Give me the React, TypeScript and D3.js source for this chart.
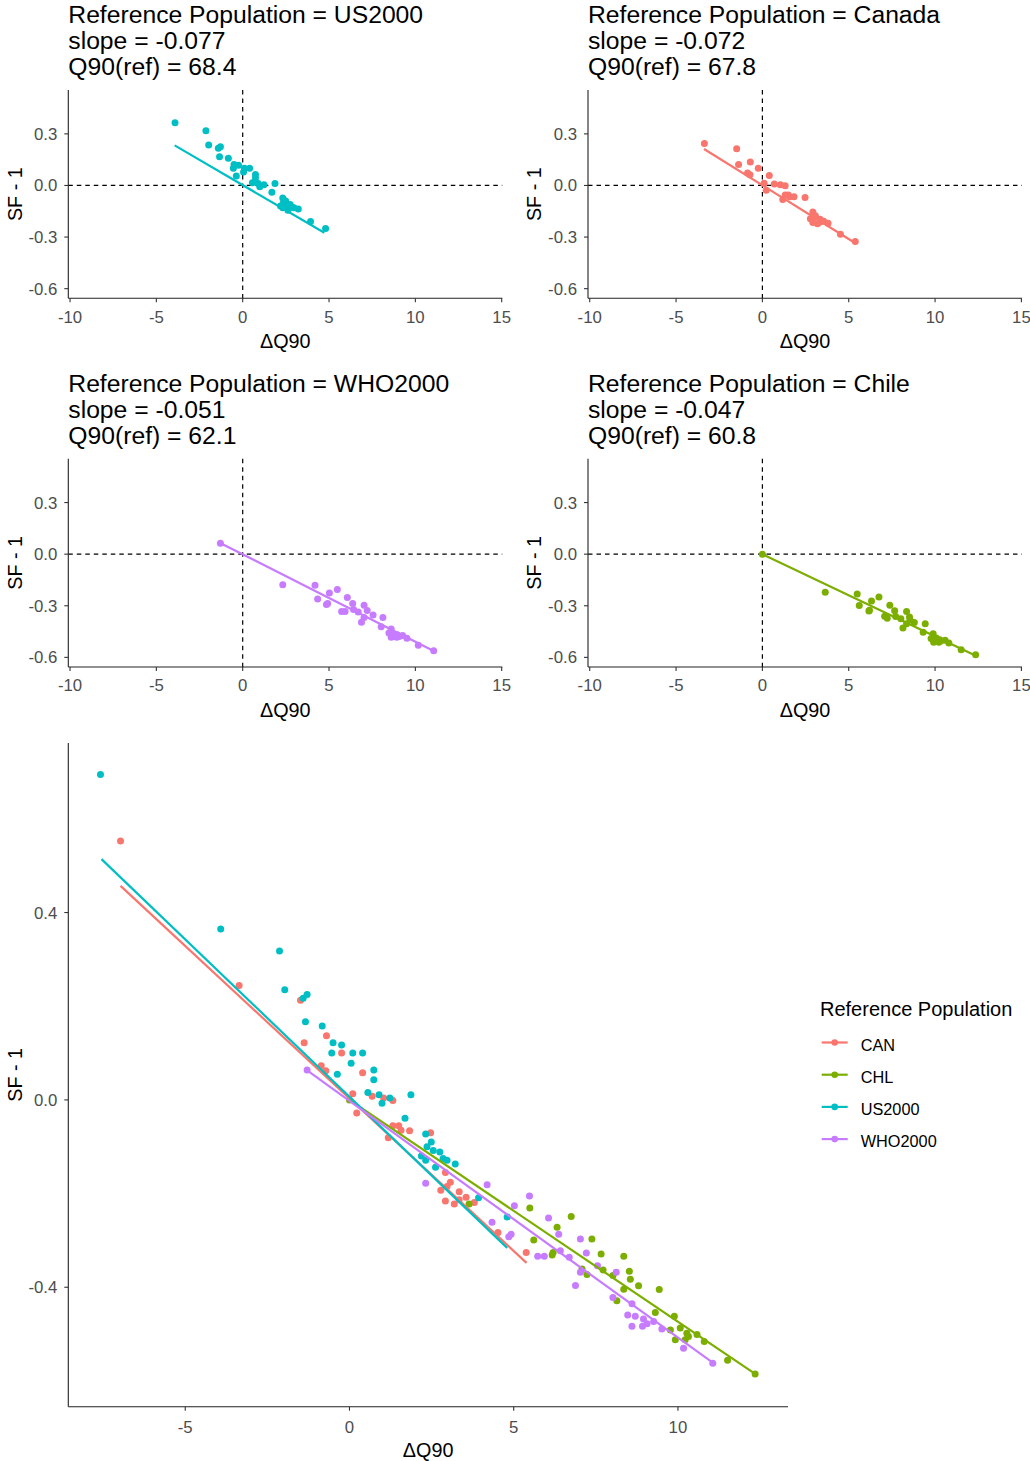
import React from 'react';
import * as d3 from 'd3';

type P = [number, number];

const groups = ['CAN', 'CHL', 'US2000', 'WHO2000'];
const groupColors = ['#F8766D', '#7CAE00', '#00BFC4', '#C77CFF'];

const canPoints: P[] = [
  [-6.97, 0.553], [-3.36, 0.244], [-1.49, 0.213], [-0.70, 0.137], [-1.38, 0.122], [-0.24, 0.100],
  [-0.86, 0.073], [-0.72, 0.062], [0.40, 0.058], [0.10, 0.013], [0.69, 0.008], [1.04, 0.004],
  [1.32, -0.001], [0.22, -0.028], [1.32, -0.055], [1.50, -0.055], [1.57, -0.065], [1.83, -0.066],
  [2.47, -0.070], [1.18, -0.081], [2.92, -0.155], [3.07, -0.176], [2.97, -0.185], [2.78, -0.193],
  [3.34, -0.196], [3.55, -0.208], [2.92, -0.216], [3.19, -0.222], [3.34, -0.213], [3.80, -0.219],
  [4.52, -0.283], [5.38, -0.326],
];

const chlPoints: P[] = [
  [0, 0], [3.64, -0.222], [5.49, -0.231], [6.75, -0.249], [6.32, -0.272], [5.61, -0.299],
  [6.17, -0.331], [6.20, -0.326], [7.38, -0.297], [7.66, -0.329], [8.35, -0.334], [7.08, -0.361],
  [7.23, -0.373], [7.72, -0.363], [8.02, -0.375], [8.52, -0.366], [8.55, -0.383], [8.80, -0.397],
  [9.43, -0.405], [8.35, -0.404], [8.14, -0.429], [9.31, -0.454], [9.89, -0.462], [9.77, -0.491],
  [10.07, -0.487], [10.27, -0.498], [9.92, -0.512], [10.22, -0.512], [10.32, -0.505], [10.58, -0.501],
  [10.80, -0.516], [11.51, -0.556], [12.35, -0.585],
];

const usPoints: P[] = [
  [-7.58, 0.695], [-3.92, 0.365], [-2.13, 0.318], [-1.97, 0.235], [-1.29, 0.225], [-1.41, 0.217],
  [-1.34, 0.167], [-0.83, 0.158], [-0.50, 0.122], [-0.24, 0.117], [-0.54, 0.100], [0.10, 0.100],
  [0.40, 0.100], [0.05, 0.078], [-0.37, 0.055], [0.74, 0.064], [0.74, 0.043], [0.56, 0.016],
  [0.90, 0.011], [0.99, -0.007], [1.23, 0.004], [1.87, 0.011], [1.69, -0.039], [2.32, -0.073],
  [2.49, -0.090], [2.36, -0.100], [2.75, -0.111], [2.19, -0.120], [2.32, -0.129], [2.97, -0.129],
  [3.22, -0.137], [2.62, -0.144], [2.55, -0.108], [2.85, -0.125], [3.93, -0.209], [4.80, -0.250],
];

const whoPoints: P[] = [
  [-1.29, 0.064], [2.32, -0.178], [4.19, -0.181], [4.34, -0.261], [4.85, -0.292], [4.92, -0.287],
  [5.02, -0.226], [5.48, -0.205], [5.73, -0.334], [5.93, -0.334], [6.06, -0.252], [6.37, -0.287],
  [6.42, -0.322], [6.69, -0.336], [7.03, -0.297], [7.21, -0.327], [7.55, -0.354], [7.03, -0.368],
  [6.88, -0.396], [8.12, -0.368], [8.02, -0.422], [8.60, -0.435], [8.47, -0.459], [8.70, -0.462],
  [8.60, -0.483], [8.95, -0.468], [8.92, -0.483], [9.06, -0.478], [9.26, -0.473], [9.51, -0.489],
  [10.17, -0.530], [11.06, -0.562],
];

// fitted lines (endpoints) in the combined panel
const canLineAll: P[] = [[-6.97, 0.457], [5.39, -0.348]];
const chlLineAll: P[] = [[0, 0], [12.35, -0.585]];
const usLineAll: P[] = [[-7.55, 0.514], [4.80, -0.316]];
const whoLineAll: P[] = [[-1.31, 0.064], [11.08, -0.562]];
// fitted lines in the faceted panels
const canLineSub: P[] = [[-3.38, 0.212], [5.30, -0.330]];
const chlLineSub: P[] = [[0, 0], [12.30, -0.588]];
const usLineSub: P[] = [[-3.94, 0.233], [4.73, -0.275]];
const whoLineSub: P[] = [[-1.28, 0.064], [11.06, -0.563]];

const groupPoints = [canPoints, chlPoints, usPoints, whoPoints];
const groupLinesAll = [canLineAll, chlLineAll, usLineAll, whoLineAll];
const groupLinesSub = [canLineSub, chlLineSub, usLineSub, whoLineSub];

const panelNames = ['US2000', 'Canada', 'WHO2000', 'Chile'];
const panelGroupIdx = [2, 0, 3, 1];
const panelSlopes = ['-0.077', '-0.072', '-0.051', '-0.047'];
const panelQ90 = ['68.4', '67.8', '62.1', '60.8'];

const smallXTicks = [-10, -5, 0, 5, 10, 15];
const smallYTicks = [0.3, 0, -0.3, -0.6];
const bigXTicks = [-5, 0, 5, 10];
const bigYTicks = [0.4, 0, -0.4];

const FONT = "'Liberation Sans', Arial, Helvetica, sans-serif";
const TICK_COLOR = '#4D4D4D';
const TITLE_SIZE = 24.7;
const PT_R = 3.5;
const LINE_W = 2.2;

const fmt1 = (v: number) => (Math.abs(v) < 1e-9 ? '0.0' : v.toFixed(1));

function SmallPanel({ idx, ox, oy }: { idx: number; ox: number; oy: number }) {
  const left = 68.3 + ox, right = 502.3 + ox, top = 90 + oy, bottom = 298.3 + oy;
  const x = d3.scaleLinear().domain([-10.1, 15.035]).range([left, right]);
  const y = d3.scaleLinear().domain([-0.656, 0.555]).range([bottom, top]);
  const g = panelGroupIdx[idx];
  const color = groupColors[g];
  const pts = groupPoints[g].filter((p) => p[1] <= 0.5);
  const line = d3.line<P>().x((d) => x(d[0])).y((d) => y(d[1]));
  return (
    <g>
      <text x={left} y={23.3 + oy} fontSize={TITLE_SIZE} fill="#000" fontFamily={FONT}>{`Reference Population = ${panelNames[idx]}`}</text>
      <text x={left} y={49.3 + oy} fontSize={TITLE_SIZE} fill="#000" fontFamily={FONT}>{`slope = ${panelSlopes[idx]}`}</text>
      <text x={left} y={75.3 + oy} fontSize={TITLE_SIZE} fill="#000" fontFamily={FONT}>{`Q90(ref) = ${panelQ90[idx]}`}</text>
      <line x1={left} x2={right} y1={y(0)} y2={y(0)} stroke="#000" strokeWidth={1.2} strokeDasharray="4.5,4" />
      <line x1={x(0)} x2={x(0)} y1={top} y2={bottom} stroke="#000" strokeWidth={1.2} strokeDasharray="4.5,4" />
      {pts.map((p, i) => (
        <circle key={i} cx={x(p[0])} cy={y(p[1])} r={PT_R} fill={color} />
      ))}
      <path d={line(groupLinesSub[g]) || ''} stroke={color} strokeWidth={LINE_W} fill="none" />
      <line x1={left} x2={right} y1={bottom} y2={bottom} stroke="#222" strokeWidth={1.1} />
      <line x1={left} x2={left} y1={top} y2={bottom} stroke="#222" strokeWidth={1.1} />
      {smallXTicks.map((t) => (
        <g key={t}>
          <line x1={x(t)} x2={x(t)} y1={bottom} y2={bottom + 4} stroke="#333" strokeWidth={1.1} />
          <text x={x(t)} y={bottom + 24.4} fontSize={16.8} fill={TICK_COLOR} textAnchor="middle" fontFamily={FONT}>{String(t)}</text>
        </g>
      ))}
      {smallYTicks.map((t) => (
        <g key={t}>
          <line x1={left - 4} x2={left} y1={y(t)} y2={y(t)} stroke="#333" strokeWidth={1.1} />
          <text x={left - 11} y={y(t) + 6} fontSize={16.8} fill={TICK_COLOR} textAnchor="end" fontFamily={FONT}>{fmt1(t)}</text>
        </g>
      ))}
      <text x={(left + right) / 2} y={bottom + 50} fontSize={19.8} fill="#000" textAnchor="middle" fontFamily={FONT}>ΔQ90</text>
      <text transform={`translate(${21.7 + ox},${(top + bottom) / 2}) rotate(-90)`} fontSize={19.8} fill="#000" textAnchor="middle" fontFamily={FONT}>SF - 1</text>
    </g>
  );
}

function BigPanel() {
  const left = 68.3, right = 788, top = 743, bottom = 1406.7;
  const x = d3.scaleLinear().domain([-8.56, 13.35]).range([left, right]);
  const y = d3.scaleLinear().domain([-0.655, 0.762]).range([bottom, top]);
  const line = d3.line<P>().x((d) => x(d[0])).y((d) => y(d[1]));
  const legendRows = groups.map((gname, i) => ({ gname, i, cy: 1042.5 + i * 32.2 }));
  return (
    <g>
      {groups.map((gname, gi) => (
        <g key={gname}>
          {groupPoints[gi].map((p, i) => (
            <circle key={i} cx={x(p[0])} cy={y(p[1])} r={PT_R} fill={groupColors[gi]} />
          ))}
        </g>
      ))}
      {groups.map((gname, gi) => (
        <path key={gname} d={line(groupLinesAll[gi]) || ''} stroke={groupColors[gi]} strokeWidth={LINE_W} fill="none" />
      ))}
      <line x1={left} x2={right} y1={bottom} y2={bottom} stroke="#222" strokeWidth={1.1} />
      <line x1={left} x2={left} y1={top} y2={bottom} stroke="#222" strokeWidth={1.1} />
      {bigXTicks.map((t) => (
        <g key={t}>
          <line x1={x(t)} x2={x(t)} y1={bottom} y2={bottom + 4} stroke="#333" strokeWidth={1.1} />
          <text x={x(t)} y={bottom + 26.6} fontSize={16.8} fill={TICK_COLOR} textAnchor="middle" fontFamily={FONT}>{String(t)}</text>
        </g>
      ))}
      {bigYTicks.map((t) => (
        <g key={t}>
          <line x1={left - 4} x2={left} y1={y(t)} y2={y(t)} stroke="#333" strokeWidth={1.1} />
          <text x={left - 11} y={y(t) + 6} fontSize={16.8} fill={TICK_COLOR} textAnchor="end" fontFamily={FONT}>{fmt1(t)}</text>
        </g>
      ))}
      <text x={(left + right) / 2} y={bottom + 50} fontSize={19.8} fill="#000" textAnchor="middle" fontFamily={FONT}>ΔQ90</text>
      <text transform={`translate(21.7,${(top + bottom) / 2}) rotate(-90)`} fontSize={19.8} fill="#000" textAnchor="middle" fontFamily={FONT}>SF - 1</text>
      <text x={820} y={1016} fontSize={20} fill="#000" fontFamily={FONT}>Reference Population</text>
      {legendRows.map((r) => (
        <g key={r.gname}>
          <line x1={821.7} x2={847.7} y1={r.cy} y2={r.cy} stroke={groupColors[r.i]} strokeWidth={LINE_W} />
          <circle cx={834.7} cy={r.cy} r={3.3} fill={groupColors[r.i]} />
          <text x={860.7} y={r.cy + 8} fontSize={16.3} fill="#000" fontFamily={FONT}>{r.gname}</text>
        </g>
      ))}
    </g>
  );
}

export default function App() {
  return (
    <svg width={1030} height={1461} style={{ position: 'absolute', left: 0, top: 0, background: '#fff' }}>
      <rect x={0} y={0} width={1030} height={1461} fill="#fff" />
      <SmallPanel idx={0} ox={0} oy={0} />
      <SmallPanel idx={1} ox={519.7} oy={0} />
      <SmallPanel idx={2} ox={0} oy={368.7} />
      <SmallPanel idx={3} ox={519.7} oy={368.7} />
      <BigPanel />
    </svg>
  );
}
